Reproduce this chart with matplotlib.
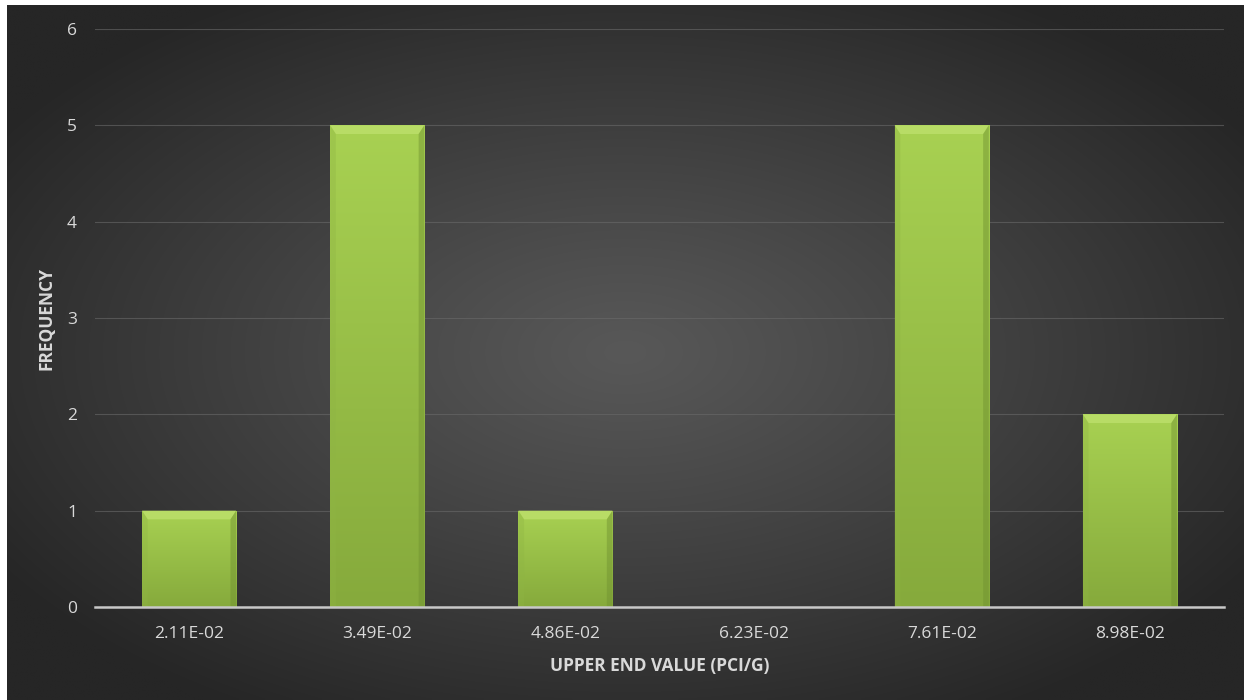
import numpy as np
import matplotlib
matplotlib.use("Agg")
import matplotlib.pyplot as plt
from matplotlib.patches import Polygon

categories = ["2.11E-02", "3.49E-02", "4.86E-02", "6.23E-02", "7.61E-02", "8.98E-02"]
frequency = [1, 5, 1, 0, 5, 2]
y_ticks = [0, 1, 2, 3, 4, 5, 6]

plt.rcParams['font.family'] = ['Open Sans', 'DejaVu Sans']

W, H = 1244, 700
fig = plt.figure(figsize=(W / 100, H / 100), dpi=100)
fig.patch.set_facecolor("white")

# background radial gradient
bg = fig.add_axes([7 / W, 0, 1 - 7 / W, 1 - 5 / H])
bg.set_axis_off()
nx, ny = 400, 240
xx, yy = np.meshgrid(np.linspace(-1, 1, nx), np.linspace(-1, 1, ny))
r = np.sqrt(xx ** 2 + yy ** 2) / np.sqrt(2)
r = np.clip(r, 0, 1)
c_center = np.array([0x58, 0x58, 0x58]) / 255
c_edge = np.array([0x26, 0x26, 0x26]) / 255
t = np.clip(r / 0.85, 0, 1) ** 1.1
img = c_center[None, None, :] * (1 - t[..., None]) + c_edge[None, None, :] * t[..., None]
bg.imshow(img, aspect="auto", extent=[0, 1, 0, 1], interpolation="bilinear")
bg.set_xlim(0, 1)
bg.set_ylim(0, 1)

ax = fig.add_axes([95 / W, (H - 607) / H, (1224 - 95) / W, (607 - 29) / H])
ax.patch.set_alpha(0)
x = np.arange(len(categories))
bars = ax.bar(x, frequency, width=0.5, color="#94bd45", zorder=3)
ax.set_xlim(-0.5, len(categories) - 0.5)
ax.set_ylim(0, 6)

# gradient + bevel on each bar
grad = np.linspace(0, 1, 100)[:, None]
top_c = np.array([0xa8, 0xd1, 0x52]) / 255
bot_c = np.array([0x86, 0xaa, 0x3c]) / 255
gimg = top_c[None, None, :] * (1 - grad[..., None]) + bot_c[None, None, :] * grad[..., None]
gimg = np.repeat(gimg, 2, axis=1)
for b, v in zip(bars, frequency):
    if v <= 0:
        continue
    x0, w = b.get_x(), b.get_width()
    im = ax.imshow(gimg, extent=[x0, x0 + w, 0, v], aspect="auto", zorder=4,
                   interpolation="bilinear")
    im.set_clip_path(b)
    dx = 0.03
    dy = 0.09
    ax.add_patch(Polygon([[x0, v], [x0 + w, v], [x0 + w - dx, v - dy], [x0 + dx, v - dy]],
                         closed=True, facecolor="#b8dc66", edgecolor="none", zorder=5))
    ax.add_patch(Polygon([[x0, v], [x0 + dx, v - dy], [x0 + dx, 0], [x0, 0]],
                         closed=True, facecolor="#8fb544", edgecolor="none", alpha=0.35, zorder=5))
    ax.add_patch(Polygon([[x0 + w, v], [x0 + w - dx, v - dy], [x0 + w - dx, 0], [x0 + w, 0]],
                         closed=True, facecolor="#6f9030", edgecolor="none", alpha=0.45, zorder=5))

ax.set_yticks(y_ticks)
ax.set_xticks(x)
ax.set_xticklabels(categories)
ax.yaxis.grid(True, color="#6a6a6a", linewidth=0.8, alpha=0.6, zorder=1)
ax.set_axisbelow(True)
for s in ["top", "right", "left"]:
    ax.spines[s].set_visible(False)
ax.spines["bottom"].set_color("#c8c8c8")
ax.spines["bottom"].set_linewidth(1.8)
ax.spines["bottom"].set_zorder(6)
ax.tick_params(axis="both", length=0, colors="#d9d9d9", labelsize=12.5)
ax.tick_params(axis="y", pad=13)
ax.tick_params(axis="x", pad=14)
ax.set_xlabel("UPPER END VALUE (PCI/G)", color="#d9d9d9", fontsize=12.5, fontweight="bold", labelpad=10.5)
ax.set_ylabel("FREQUENCY", color="#d9d9d9", fontsize=12.5, fontweight="bold", labelpad=8)

fig.savefig("out.png", dpi=100, facecolor=fig.get_facecolor())
